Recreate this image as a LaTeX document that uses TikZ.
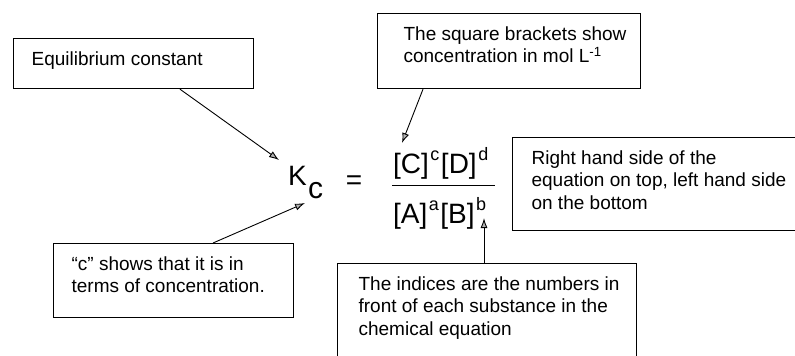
\documentclass[tikz,border=0pt]{standalone}
\usepackage{fontspec}
\setmainfont{Liberation Sans}
\usetikzlibrary{arrows.meta}
\newcommand\cbox[4]{\parbox[t][#1pt][t]{#2pt}{\raggedright\leftskip=#3pt\relax\vspace*{11pt}\strut #4}}
\newcommand\supx[1]{\kern1.5pt\raisebox{13pt}{\fontsize{18}{18}\selectfont #1}\kern1.5pt}
\begin{document}
\begin{tikzpicture}[x=1pt,y=-1pt,
  cbx/.style={draw=black, line width=1.2pt, fill=white, inner sep=0pt, anchor=north west, font=\fontsize{19}{22.5}\selectfont},
  arr/.style={line width=0.9pt, -{Latex[length=10pt,width=7pt,fill=gray!60]}},
  eqtxt/.style={anchor=base west, inner sep=0pt}]
\useasboundingbox (0,0) rectangle (795,356);
\clip (0,0) rectangle (795,356);
\fill[white] (0,0) rectangle (795,356);

\node[cbx] (eq) at (13,38) {\cbox{50}{240}{18}{Equilibrium constant}};
\node[cbx] (sq) at (377,13) {\cbox{75}{263}{26}{The square brackets show\\concentration in mol L\textsuperscript{-1}}};
\node[cbx] (rhs) at (512,137) {\cbox{93}{300}{19}{Right hand side of the\\equation on top, left hand side\\on the bottom}};
\node[cbx] (cs) at (53,243) {\cbox{74}{240}{18}{“c” shows that it is in\\terms of concentration.}};
\node[cbx] (ind) at (337,263) {\cbox{110}{299}{21}{The indices are the numbers in\\front of each substance in the\\chemical equation}};

\node[eqtxt, font=\fontsize{28}{28}\selectfont] (K) at (288,185) {K};
\node[eqtxt, font=\fontsize{30}{30}\selectfont] (sub) at (308,198) {c};
\node[anchor=base, inner sep=0pt, font=\fontsize{28}{28}\selectfont] (eqs) at (354,189) {=};
\node[eqtxt, font=\fontsize{28}{28}\selectfont] (num) at (393,173) {[C]\supx{c}[D]\supx{d}};
\node[eqtxt, font=\fontsize{28}{28}\selectfont] (den) at (393,223) {[A]\supx{a}[B]\supx{b}};
\coordinate (fl) at (392,185);
\coordinate (fr) at (495,185);
\draw[line width=1pt] (fl) -- (fr);

\coordinate (t1) at (279,160);
\coordinate (t2) at (402,143);
\coordinate (t3) at (305,203);
\coordinate (t4) at (484,218);
\draw[arr] ([xshift=167pt]eq.south west) -- (t1);
\draw[arr] ([xshift=46pt]sq.south west) -- (t2);
\draw[arr] ([xshift=160pt]cs.north west) -- (t3);
\draw[arr] ([xshift=147pt]ind.north west) -- (t4);
\end{tikzpicture}
\end{document}
